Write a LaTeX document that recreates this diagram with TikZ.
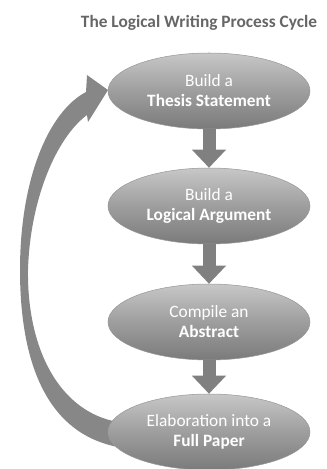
\documentclass[tikz,border=0pt]{standalone}
\usepackage{fontspec}
\setmainfont{Carlito}
\usetikzlibrary{shapes.geometric,arrows.meta}

\tikzset{
  stage/.style={ellipse, minimum width=151.5pt, minimum height=57pt, inner sep=0pt,
    draw=black!40, line width=0.4pt, top color=black!22, bottom color=black!52,
    middle color=black!38, text=white, align=center,
    font=\fontsize{13}{15}\selectfont},
  flow/.style={black!50, line width=9.75pt,
    -{Triangle[width=24.75pt,length=13.5pt]}, shorten >=0pt},
}

\begin{document}
\begin{tikzpicture}[x=0.75pt,y=-0.75pt]
\useasboundingbox (0,0) rectangle (327,469);
%% title
\node[text=black!60, font=\bfseries\fontsize{13}{15}\selectfont] (title) at (199,23) {The Logical Writing Process Cycle};
%% return arrow (drawn first, under the stages)
\fill[black!47] (118,447) .. controls (40,432) and (20,350) .. (20,270)
  .. controls (20,180) and (48,112) .. (86,92)
  -- (87,75) -- (108,90) -- (88,122) -- (87,115)
  .. controls (56,138) and (30,200) .. (28,270)
  .. controls (27,350) and (60,412) .. (118,422) -- cycle;
%% stages
\node[stage] (thesis) at (209,91) {Build a\\\textbf{Thesis Statement}};
\node[stage] (argument) at (209,206) {Build a\\\textbf{Logical Argument}};
\node[stage] (abstract) at (209,322) {Compile an\\\textbf{Abstract}};
\node[stage] (paper) at (209,432) {Elaboration into a\\\textbf{Full Paper}};
%% steps
\draw[flow] (thesis) -- (argument);
\draw[flow] (argument) -- (abstract);
\draw[flow] (abstract) -- (paper);

\end{tikzpicture}
\end{document}
